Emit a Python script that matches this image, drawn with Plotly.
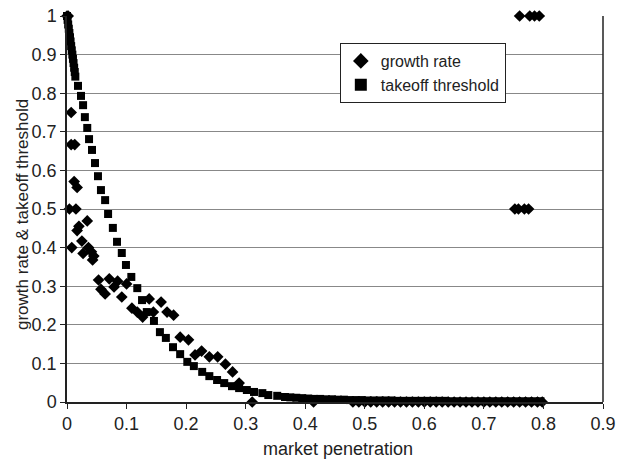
import plotly.graph_objects as go

# ---- data ----
growth_x = [0.000, 0.002, 0.007, 0.007, 0.013, 0.012, 0.017, 0.004, 0.015, 0.008,
            0.020, 0.017, 0.034, 0.025, 0.027, 0.036, 0.041, 0.045, 0.043, 0.053,
            0.057, 0.064, 0.071, 0.079, 0.085, 0.092, 0.100, 0.109, 0.118, 0.127,
            0.138, 0.145, 0.158, 0.168, 0.179, 0.190, 0.204, 0.215, 0.226, 0.239,
            0.253, 0.266, 0.278, 0.289, 0.311, 0.414,
            0.480, 0.490, 0.500, 0.510, 0.520, 0.530, 0.540, 0.550, 0.560, 0.570,
            0.580, 0.590, 0.600, 0.610, 0.620, 0.630, 0.640, 0.650, 0.660, 0.670,
            0.680, 0.690, 0.700, 0.710, 0.720, 0.730, 0.740, 0.750, 0.760, 0.770,
            0.780, 0.790, 0.798,
            0.752, 0.758, 0.768, 0.775,
            0.760, 0.777, 0.785, 0.793]
growth_y = [1.000, 1.000, 0.750, 0.667, 0.667, 0.571, 0.556, 0.500, 0.500, 0.400,
            0.455, 0.444, 0.469, 0.417, 0.385, 0.400, 0.389, 0.378, 0.368, 0.316,
            0.292, 0.280, 0.319, 0.298, 0.313, 0.272, 0.306, 0.243, 0.233, 0.220,
            0.267, 0.233, 0.259, 0.233, 0.225, 0.168, 0.161, 0.122, 0.132, 0.117,
            0.117, 0.098, 0.078, 0.049, 0.000, 0.000,
            0.000, 0.000, 0.000, 0.000, 0.000, 0.000, 0.000, 0.000, 0.000, 0.000,
            0.000, 0.000, 0.000, 0.000, 0.000, 0.000, 0.000, 0.000, 0.000, 0.000,
            0.000, 0.000, 0.000, 0.000, 0.000, 0.000, 0.000, 0.000, 0.000, 0.000,
            0.000, 0.000, 0.000,
            0.500, 0.500, 0.500, 0.500,
            1.000, 1.000, 1.000, 1.000]

threshold_x = [0.000, 0.001, 0.002, 0.003, 0.004, 0.005, 0.006, 0.007, 0.008, 0.009,
               0.010, 0.011, 0.012, 0.013, 0.014,
               0.0185, 0.0235, 0.027, 0.030, 0.034, 0.037, 0.042, 0.047, 0.052, 0.057,
               0.064, 0.069, 0.077, 0.084, 0.092, 0.099, 0.108, 0.118, 0.126, 0.134,
               0.146, 0.156, 0.166, 0.178, 0.190, 0.202, 0.213, 0.227, 0.239, 0.252,
               0.264, 0.277, 0.289, 0.302, 0.314, 0.328, 0.338, 0.353, 0.366,
               0.375, 0.385, 0.395, 0.405, 0.415, 0.425, 0.435, 0.445, 0.455, 0.465,
               0.475, 0.485, 0.495, 0.505, 0.515, 0.525, 0.535, 0.545, 0.555, 0.565,
               0.575, 0.585, 0.595, 0.605, 0.615, 0.625, 0.635, 0.645, 0.655, 0.665,
               0.675, 0.685, 0.695, 0.705, 0.715, 0.725, 0.735, 0.745, 0.755, 0.765,
               0.775, 0.785, 0.795]
threshold_y = [1.000, 0.990, 0.978, 0.967, 0.956, 0.945, 0.934, 0.922, 0.911, 0.900,
               0.889, 0.878, 0.866, 0.855, 0.843,
               0.819, 0.793, 0.769, 0.738, 0.710, 0.681, 0.653, 0.619, 0.585, 0.549,
               0.523, 0.487, 0.451, 0.415, 0.386, 0.355, 0.324, 0.295, 0.264, 0.233,
               0.210, 0.181, 0.166, 0.142, 0.124, 0.104, 0.093, 0.078, 0.067, 0.057,
               0.049, 0.041, 0.036, 0.031, 0.026, 0.023, 0.018, 0.016, 0.013,
               0.012, 0.011, 0.010, 0.009, 0.008, 0.008, 0.007, 0.007, 0.006, 0.006,
               0.005, 0.005, 0.005, 0.004, 0.004, 0.004, 0.004, 0.004, 0.003, 0.003,
               0.003, 0.003, 0.003, 0.003, 0.003, 0.003, 0.003, 0.002, 0.002, 0.002,
               0.002, 0.002, 0.002, 0.002, 0.002, 0.002, 0.002, 0.002, 0.002, 0.002,
               0.002, 0.002, 0.002]

x_ticks = [0, 0.1, 0.2, 0.3, 0.4, 0.5, 0.6, 0.7, 0.8, 0.9]
x_tick_labels = ["0", "0.1", "0.2", "0.3", "0.4", "0.5", "0.6", "0.7", "0.8", "0.9"]
y_ticks = [0, 0.1, 0.2, 0.3, 0.4, 0.5, 0.6, 0.7, 0.8, 0.9, 1]
y_tick_labels = ["0", "0.1", "0.2", "0.3", "0.4", "0.5", "0.6", "0.7", "0.8", "0.9", "1"]
x_title = "market penetration"
y_title = "growth rate & takeoff threshold"

FONT = "Liberation Sans, Arial, sans-serif"
TXT = "#222"

fig = go.Figure()
fig.add_trace(go.Scatter(
    x=growth_x, y=growth_y, mode="markers", name="growth rate",
    marker=dict(symbol="diamond", size=9, color="black"),
    cliponaxis=False))
fig.add_trace(go.Scatter(
    x=threshold_x, y=threshold_y, mode="markers", name="takeoff threshold",
    marker=dict(symbol="square", size=8, color="black"),
    cliponaxis=False))

fig.update_layout(
    width=617, height=459,
    margin=dict(l=67, r=14, t=16, b=57),
    paper_bgcolor="white", plot_bgcolor="white",
    font=dict(family=FONT, color=TXT, size=18),
    showlegend=True,
    legend=dict(
        x=0.509, y=0.93, xanchor="left", yanchor="top",
        bgcolor="white", bordercolor=TXT, borderwidth=1,
        font=dict(size=16, family=FONT, color=TXT),
        itemsizing="constant", tracegroupgap=0,
    ),
    xaxis=dict(
        range=[0, 0.9], tickvals=x_ticks, ticktext=x_tick_labels,
        showgrid=False, zeroline=False, automargin=False,
        showline=True, linecolor=TXT, linewidth=1.5,
        ticks="outside", ticklen=5, tickcolor=TXT,
        ticklabeloverflow="allow",
        tickfont=dict(size=18, family=FONT, color=TXT),
    ),
    yaxis=dict(
        range=[0, 1], tickvals=y_ticks, ticktext=y_tick_labels,
        showgrid=True, gridcolor="#888", gridwidth=1, zeroline=False, automargin=False,
        showline=True, linecolor=TXT, linewidth=1.5,
        ticks="outside", ticklen=5, tickcolor=TXT,
        ticklabeloverflow="allow",
        tickfont=dict(size=18, family=FONT, color=TXT),
    ),
    shapes=[dict(type="line", xref="paper", yref="paper", x0=1, x1=1, y0=0, y1=1,
                 line=dict(color=TXT, width=1.5))],
    annotations=[
        dict(text=x_title, xref="paper", yref="paper", x=0.506, y=-0.122,
             xanchor="center", yanchor="middle", showarrow=False,
             font=dict(size=18, family=FONT, color=TXT)),
        dict(text=y_title, xref="paper", yref="paper", x=-0.084, y=0.487,
             xanchor="center", yanchor="middle", showarrow=False, textangle=-90,
             font=dict(size=17, family=FONT, color=TXT)),
    ],
)

fig.write_html("out.html", config={"displayModeBar": False},
               post_script="document.body.style.margin='0';")
